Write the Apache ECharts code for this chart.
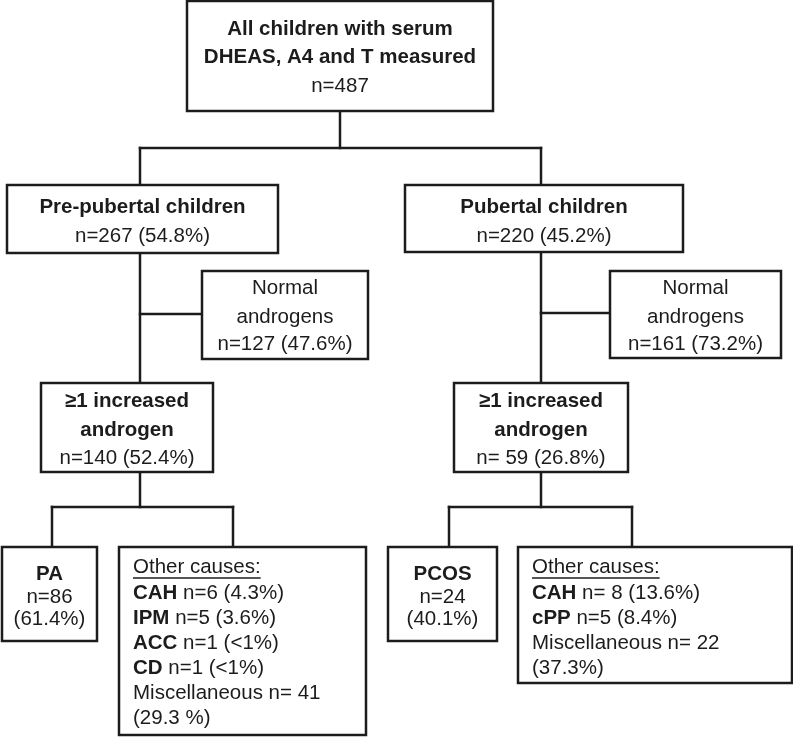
<!DOCTYPE html>
<html>
<head>
<meta charset="utf-8">
<script src="https://cdn.jsdelivr.net/npm/echarts@6/dist/echarts.min.js"></script>
<style>
html,body{margin:0;padding:0;background:#fff;}
#chart{width:793px;height:737px;}
</style>
</head>
<body>
<div id="chart"></div>
<script>
// ---------- content (text of each box; {b|..} = bold, {n|..} = normal) ----------
const allChildrenLines = ['{b|All children with serum}', '{b|DHEAS, A4 and T measured}', '{n|n=487}'];
const prePubertalLines = ['{b|Pre-pubertal children}', '{n|n=267 (54.8%)}'];
const pubertalLines = ['{b|Pubertal children}', '{n|n=220 (45.2%)}'];
const normalPreLines = ['{n|Normal}', '{n|androgens}', '{n|n=127 (47.6%)}'];
const normalPubLines = ['{n|Normal}', '{n|androgens}', '{n|n=161 (73.2%)}'];
const increasedPreLines = ['{b|\u22651 increased}', '{b|androgen}', '{n|n=140 (52.4%)}'];
const increasedPubLines = ['{b|\u22651 increased}', '{b|androgen}', '{n|n= 59 (26.8%)}'];
const paLines = ['{b|PA}', '{n|n=86}', '{n|(61.4%)}'];
const otherPreLines = ['{n|Other causes:}', '{b|CAH}{n| n=6 (4.3%)}', '{b|IPM}{n| n=5 (3.6%)}', '{b|ACC}{n| n=1 (<1%)}', '{b|CD}{n| n=1 (<1%)}', '{n|Miscellaneous n= 41}', '{n|(29.3 %)}'];
const pcosLines = ['{b|PCOS}', '{n|n=24}', '{n|(40.1%)}'];
const otherPubLines = ['{n|Other causes:}', '{b|CAH}{n| n= 8 (13.6%)}', '{b|cPP}{n| n=5 (8.4%)}', '{n|Miscellaneous n= 22}', '{n|(37.3%)}'];
const underlinedText = 'Other causes:';

const boxTexts = [allChildrenLines, prePubertalLines, pubertalLines, normalPreLines, normalPubLines,
  increasedPreLines, increasedPubLines, paLines, otherPreLines, pcosLines, otherPubLines];

// ---------- layout (diagram units = pixels of the 793x737 canvas) ----------
const boxRects = [ // [x0, y0, x1, y1]
  [187, 1, 493, 111],
  [7, 185, 278, 253],
  [405, 185, 683, 252],
  [202, 271, 368, 359],
  [610, 271, 781, 358],
  [41, 383, 213, 472],
  [454, 383, 628, 472],
  [2, 547, 97, 641],
  [119, 547, 366, 735],
  [388, 547, 497, 641],
  [518, 547, 792, 683]
];
const boxLineY = [
  [29, 57, 86],
  [207, 236],
  [207, 236],
  [288, 317, 344],
  [288, 317, 344],
  [401, 430, 458],
  [401, 430, 458],
  [574, 597, 619],
  [567, 593, 618, 643, 668, 693, 718],
  [574, 597, 619],
  [567, 593, 618, 643, 668]
];
const boxAlign = ['center','center','center','center','center','center','center','center','left','center','left'];
const connectorSegments = [ // [x1, y1, x2, y2]
  [340, 111, 340, 148],
  [140, 148, 541, 148],
  [140, 148, 140, 185],
  [541, 148, 541, 185],
  [140, 253, 140, 383],
  [140, 314, 202, 314],
  [541, 252, 541, 383],
  [541, 313, 610, 313],
  [140, 472, 140, 507],
  [52, 507, 233, 507],
  [52, 507, 52, 547],
  [233, 507, 233, 547],
  [541, 472, 541, 507],
  [449, 507, 632, 507],
  [449, 507, 449, 547],
  [632, 507, 632, 547]
];

// ---------- styles ----------
const FONT_FAMILY = '"Liberation Sans", Arial, Helvetica, sans-serif';
const FONT_SIZE = 20.5;
const INK = '#1c1c1c';
const LINE_W = 2.5;

function measure(text, weight) {
  const c = document.createElement('canvas').getContext('2d');
  c.font = (weight || 'normal') + ' ' + FONT_SIZE + 'px ' + FONT_FAMILY;
  return c.measureText(text).width;
}
const underlineWidth = measure(underlinedText, 'normal');

const rich = {
  b: { fontWeight: 'bold', fontSize: FONT_SIZE, fontFamily: FONT_FAMILY, fill: INK, color: INK },
  n: { fontWeight: 'normal', fontSize: FONT_SIZE, fontFamily: FONT_FAMILY, fill: INK, color: INK }
};

const chart = echarts.init(document.getElementById('chart'), null, { renderer: 'canvas' });

chart.setOption({
  animation: false,
  backgroundColor: '#ffffff',
  grid: { left: 0, right: 0, top: 0, bottom: 0 },
  xAxis: { type: 'value', min: 0, max: 793, show: false },
  yAxis: { type: 'value', min: 0, max: 737, inverse: true, show: false },
  series: [
    {
      type: 'custom',
      coordinateSystem: 'cartesian2d',
      z: 1,
      data: connectorSegments,
      renderItem: function (params, api) {
        const p1 = api.coord([api.value(0), api.value(1)]);
        const p2 = api.coord([api.value(2), api.value(3)]);
        return {
          type: 'line',
          shape: { x1: p1[0], y1: p1[1], x2: p2[0], y2: p2[1] },
          style: { stroke: INK, lineWidth: LINE_W, lineCap: 'square' }
        };
      }
    },
    {
      type: 'custom',
      coordinateSystem: 'cartesian2d',
      z: 2,
      data: boxRects,
      renderItem: function (params, api) {
        const i = params.dataIndex;
        const a = api.coord([api.value(0), api.value(1)]);
        const b = api.coord([api.value(2), api.value(3)]);
        const children = [{
          type: 'rect',
          shape: { x: a[0], y: a[1], width: b[0] - a[0], height: b[1] - a[1] },
          style: { fill: '#ffffff', stroke: INK, lineWidth: LINE_W }
        }];
        const lines = boxTexts[i];
        const ys = boxLineY[i];
        const left = boxAlign[i] === 'left';
        const tx = left ? a[0] + 14 : (a[0] + b[0]) / 2;
        lines.forEach(function (t, k) {
          const y = api.coord([0, ys[k]])[1];
          children.push({
            type: 'text',
            style: {
              text: t, x: tx, y: y,
              align: left ? 'left' : 'center', verticalAlign: 'middle',
              fontSize: FONT_SIZE, fontFamily: FONT_FAMILY, fill: INK,
              rich: rich
            }
          });
          if (t.indexOf(underlinedText) >= 0) {
            children.push({
              type: 'line',
              shape: { x1: tx, y1: y + 11, x2: tx + underlineWidth, y2: y + 11 },
              style: { stroke: INK, lineWidth: 1.5 }
            });
          }
        });
        return { type: 'group', children: children };
      }
    }
  ]
});
</script>
</body>
</html>
